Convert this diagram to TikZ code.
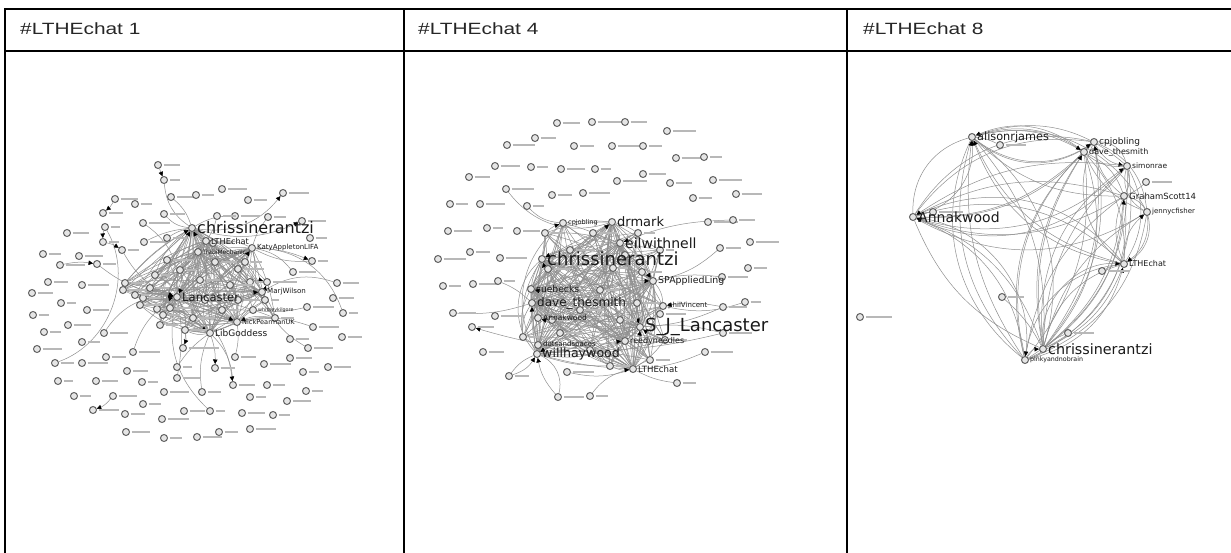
\documentclass[tikz,border=0pt]{standalone}
\usepackage{fontspec}
\setmainfont{Liberation Sans}
\newfontfamily\graphfont{DejaVu Sans}
\usetikzlibrary{arrows.meta}
\pgfdeclarelayer{edges}
\pgfsetlayers{edges,main}

\newcommand\labsize[1]{\fontsize{#1}{#1}\selectfont}

\tikzset{
  cell/.style={line width=2pt, line cap=rect},
  header/.style={anchor=base west, inner sep=0pt, text=black!85, font=\labsize{16.3}},
  minor/.style={circle, draw=black!62, fill=black!10, line width=1pt, minimum size=7pt, inner sep=0pt},
  smudge/.style={minor, label={[text=black!28, inner sep=1.5pt]right:\rule{#1}{1.5pt}}},
  hubtext/.style={font=\graphfont\labsize{#1}, inner sep=1pt, text=black!90},
  link/.style={draw=black!44, line width=0.5pt},
  tip/.style={link, -{Triangle[length=4.5pt, width=4.5pt, color=black]}},
}

\begin{document}
\begin{tikzpicture}[x=1pt, y=-1pt]
\useasboundingbox (0,0) rectangle (1231,553);

% table
\draw[cell] (5,9.5) -- (1231,9.5);
\draw[cell] (5,51) -- (1231,51);
\draw[cell] (5,9.5) -- (5,553);
\draw[cell] (404,9.5) -- (404,553);
\draw[cell] (847,9.5) -- (847,553);
\node[header] (h1) at (20,35) {\scalebox{1.28}[1]{\#LTHEchat 1}};
\node[header] (h4) at (418,35) {\scalebox{1.28}[1]{\#LTHEchat 4}};
\node[header] (h8) at (863,35) {\scalebox{1.28}[1]{\#LTHEchat 8}};

%%% chat 1
\foreach \x/\y [count=\i] in
  {158/165,164/180,115/199,135/204,171/197,196/195,222/189,248/200,283/193,103/213,
   143/223,164/214,105/227,67/233,103/242,144/242,122/250,79/256,43/254,60/265,
   97/264,167/260,48/282,82/285,32/293,61/303,87/310,33/315,68/325,44/332,
   104/333,82/342,37/349,55/363,82/363,106/357,133/352,127/371,58/381,96/381,
   142/382,177/378,74/396,113/396,143/404,164/392,202/392,93/410,125/414,162/419,
   184/411,210/411,233/385,250/397,242/413,273/415,126/432,164/438,197/437,219/432,
   250/429,215/368,264/364,235/357,177/367,290/358,303/372,328/367,306/391,287/401,
   267/385,308/348,290/339,313/327,342/337,307/307,333/298,343/313,337/283,312/261,
   293/272,310/238,302/221,268/217,235/216,217/216,238/269,167/238}
  {\pgfmathtruncatemacro\w{9+mod(\i*7,13)}
   \node[smudge=\w pt] (p1o\i) at (\x,\y) {};}
\foreach \x/\y [count=\i] in
  {125/283,123/290,143/298,157/309,163/315,193/318,222/310,238/300,250/282,213/243,
   135/295,150/288,170/308,205/300,230/285,245/262,215/262,180/270,140/305,155/275,
   200/280,265/300,275/318,185/330,160/325}
  {\pgfmathtruncatemacro\w{8+mod(\i*5,11)}
   \node[smudge=\w pt] (p1c\i) at (\x,\y) {};}

\node[minor] (p1chris) at (192,228) [label={[hubtext=16]right:chrissinerantzi}] {};
\node[minor] (p1lthe) at (206,241) [label={[hubtext=8.2]right:LTHEchat}] {};
\node[minor] (p1trabi) at (198,252) [label={[hubtext=6]right:TrabiMechanic}] {};
\node[minor] (p1katy) at (252,248) [label={[hubtext=7]right:KatyAppletonLIFA}] {};
\node[minor] (p1lanc) at (177,297) [label={[hubtext=11.6]right:Lancaster}] {};
\node[minor] (p1marj) at (262,292) [label={[hubtext=7.1]right:MarjWilson}] {};
\node[smudge=24pt] (p1mora) at (267,282) {};
\node[minor] (p1whit) at (253,310) [label={[hubtext=4.8]right:whitneykilgore}] {};
\node[minor] (p1nick) at (237,322) [label={[hubtext=6.6]right:NickPearmanUK}] {};
\node[minor] (p1lib) at (210,333) [label={[hubtext=9]right:LibGoddess}] {};
\node[smudge=30pt] (p1blog) at (183,348) {};

\begin{pgfonlayer}{edges}
\foreach \hub in {p1chris,p1lanc,p1lthe,p1katy,p1marj,p1nick,p1lib,p1trabi}{
  \foreach \k in {1,...,25}{
    \pgfmathsetmacro\bnd{mod(\k,5)*9-18}
    \draw[link] (\hub) to[bend left=\bnd] (p1c\k);
  }
}
\foreach \src/\dst/\bnd in {p1chris/p1lanc/20,p1chris/p1lanc/-25,p1chris/p1marj/15,p1chris/p1nick/-10,
   p1chris/p1lib/30,p1lanc/p1marj/-15,p1lanc/p1katy/20,p1lthe/p1lib/-30,p1katy/p1nick/25,
   p1chris/p1whit/20,p1lanc/p1whit/-10,p1lthe/p1marj/-20,p1trabi/p1nick/15,p1chris/p1mora/10,
   p1lanc/p1blog/20,p1lib/p1marj/-20,p1chris/p1lib/-35,p1lthe/p1lanc/35,p1katy/p1lib/-30,
   p1o2/p1chris/-25,p1o5/p1chris/15,p1o12/p1chris/-20,p1o11/p1lanc/30,p1o16/p1chris/10,
   p1o22/p1lanc/15,p1o88/p1chris/10,p1o85/p1chris/-15,p1o86/p1lthe/10,p1o84/p1katy/-10,
   p1o87/p1marj/15,p1o81/p1katy/-20,p1o80/p1katy/15,p1o79/p1marj/-25,p1o78/p1katy/-35,
   p1o76/p1whit/10,p1o74/p1nick/-15,p1o13/p1o34/50,p1o21/p1lanc/-15,p1o37/p1lanc/20,
   p1o65/p1lib/10,p1o64/p1nick/-10,p1o53/p1lib/-20,p1o52/p1lanc/30,p1o47/p1lib/15,
   p1o42/p1lanc/-10,p1o72/p1marj/20,p1o17/p1lanc/-20,p1o31/p1lanc/30}
  {\draw[link] (\src) to[bend left=\bnd] (\dst);}
\foreach \src/\dst/\bnd in {p1chris/p1o9/-30,p1o1/p1o2/0,p1o3/p1o10/10,p1o13/p1o15/-10,
   p1c1/p1chris/10,p1c14/p1chris/-15,p1o20/p1o21/10,p1c10/p1lthe/10,p1c9/p1mora/15,
   p1c18/p1lanc/20,p1c8/p1marj/15,p1c3/p1lanc/-10,p1chris/p1o83/-20,p1katy/p1o80/10,
   p1c22/p1mora/10,p1c11/p1lanc/10,p1c12/p1lanc/-10,p1lib/p1o62/10,p1c7/p1nick/-15,
   p1c24/p1blog/15,p1c6/p1lib/-10,p1lanc/p1o53/25,p1c23/p1nick/-15,p1c2/p1lanc/10,
   p1o15/p1o17/10,p1c16/p1katy/10,p1c20/p1chris/-10,p1o44/p1o48/15}
  {\draw[tip] (\src) to[bend left=\bnd] (\dst);}
\end{pgfonlayer}

%%% chat 4
\foreach \x/\y [count=\i] in
  {557/123,592/122,625/122,667/131,535/138,507/145,574/146,612/146,643/146,676/158,
   704/157,495/166,531/167,561/169,595/169,643/174,617/181,670/183,713/180,469/177,
   506/189,552/195,583/193,693/198,736/194,450/204,480/204,527/206,448/231,487/228,
   517/231,708/222,733/220,750/242,720/248,438/259,470/252,500/258,748/268,722/277,
   443/286,473/284,498/281,723/307,745/302,453/313,495/316,472/327,723/333,483/352,
   705/352,509/376,567/372,677/383,558/397,590/396}
  {\pgfmathtruncatemacro\w{10+mod(\i*7,15)}
   \node[smudge=\w pt] (p2o\i) at (\x,\y) {};}
\foreach \x/\y [count=\i] in
  {545/233,593/233,638/233,548/269,613/268,642/272,637/303,552/320,560/333,523/337,
   610/366,660/250,600/290,580/310,620/320,665/340,590/350,650/360,570/250,625/255}
  {\pgfmathtruncatemacro\w{8+mod(\i*5,12)}
   \node[smudge=\w pt] (p2c\i) at (\x,\y) {};}

\node[minor] (p2cpj) at (563,223) [label={[hubtext=6.5]right:cpjobling}] {};
\node[minor] (p2drmark) at (612,222) [label={[hubtext=13]right:drmark}] {};
\node[minor] (p2neil) at (620,243) [label={[hubtext=14]right:eilwithnell}] {};
\node[minor] (p2chris) at (542,259) [label={[hubtext=18]right:chrissinerantzi}] {};
\node[minor] (p2spa) at (653,281) [label={[hubtext=9.4]right:SPAppliedLing}] {};
\node[minor] (p2sue) at (531,289) [label={[hubtext=9.2]right:suebecks}] {};
\node[minor] (p2dave) at (532,303) [label={[hubtext=12]right:dave\_thesmith}] {};
\node[minor] (p2phil) at (663,306) [label={[hubtext=7]right:philVincent}] {};
\node[smudge=20pt] (p2walker) at (660,314) {};
\node[minor] (p2anna) at (538,318) [label={[hubtext=7.5]right:Annakwood}] {};
\node[minor] (p2sjl) at (640,327) [label={[hubtext=18]right:S\_J\_Lancaster}] {};
\node[minor] (p2dots) at (538,345) [label={[hubtext=7]right:dotsandspaces}] {};
\node[minor] (p2reedy) at (625,341) [label={[hubtext=8]right:reedyneedles}] {};
\node[minor] (p2will) at (537,354) [label={[hubtext=12.6]right:willhaywood}] {};
\node[minor] (p2lthe) at (633,369) [label={[hubtext=8.6]right:LTHEchat}] {};

\begin{pgfonlayer}{edges}
\foreach \hub in {p2chris,p2sjl,p2dave,p2will,p2neil,p2spa,p2drmark,p2reedy,p2lthe,p2sue}{
  \foreach \k in {1,...,20}{
    \pgfmathsetmacro\bnd{mod(\k,5)*9-18}
    \draw[link] (\hub) to[bend left=\bnd] (p2c\k);
  }
}
\foreach \hub [count=\i] in {p2chris,p2sjl,p2dave,p2will,p2neil,p2spa,p2drmark,p2reedy,p2lthe,
    p2sue,p2dots,p2anna,p2phil,p2cpj}{
  \foreach \dst [count=\j] in {p2chris,p2sjl,p2dave,p2will,p2neil,p2spa,p2drmark,
    p2reedy,p2lthe,p2sue,p2dots,p2anna,p2phil,p2cpj}{
    \ifnum\j>\i
      \pgfmathsetmacro\bnd{mod(\i+\j,4)*12-18}
      \draw[link] (\hub) to[bend left=\bnd] (\dst);
    \fi
  }
}
\foreach \src/\dst/\bnd in {p2o21/p2drmark/-35,p2o55/p2will/-40,p2o52/p2will/15,p2o44/p2sjl/10,
   p2o45/p2phil/15,p2o49/p2sjl/-10,p2o51/p2lthe/10,p2o53/p2lthe/-15,p2o56/p2lthe/20,
   p2o35/p2spa/15,p2o40/p2spa/-10,p2o43/p2dave/10,p2o46/p2dave/-10,p2o28/p2cpj/-20,
   p2o33/p2neil/-10,p2o54/p2lthe/10,p2chris/p2will/-45,p2cpj/p2will/-40,p2drmark/p2lthe/45}
  {\draw[link] (\src) to[bend left=\bnd] (\dst);}
\foreach \src/\dst/\bnd in {p2c4/p2chris/15,p2c19/p2chris/-10,p2c1/p2cpj/10,p2c2/p2drmark/-10,
   p2c3/p2neil/10,p2c6/p2spa/15,p2c7/p2sjl/-10,p2c16/p2sjl/10,p2c18/p2sjl/20,p2c10/p2dave/-15,
   p2c9/p2will/10,p2c11/p2lthe/-15,p2c17/p2reedy/10,p2o44/p2phil/-10,p2o49/p2o48/15,
   p2c8/p2anna/10,p2o52/p2will/-20,p2o55/p2will/15,p2c14/p2sue/-10,p2c13/p2spa/10}
  {\draw[tip] (\src) to[bend left=\bnd] (\dst);}
\end{pgfonlayer}

%%% chat 8
\node[smudge=26pt] (p3solo) at (860,317) {};
\node[smudge=20pt] (p3s1) at (1000,145) {};
\node[smudge=24pt] (p3s2) at (933,212) {};
\node[smudge=22pt] (p3s3) at (1102,271) {};
\node[smudge=16pt] (p3s4) at (1002,297) {};
\node[smudge=20pt] (p3s5) at (1068,333) {};
\node[smudge=20pt] (p3s6) at (1146,182) {};

\node[minor] (p3anna) at (913,217) [label={[hubtext=14]right:Annakwood}] {};
\node[minor] (p3alison) at (972,137) [label={[hubtext=11.3]right:alisonrjames}] {};
\node[minor] (p3cpj) at (1094,142) [label={[hubtext=9]right:cpjobling}] {};
\node[minor] (p3dave) at (1084,152) [label={[hubtext=8]right:dave\_thesmith}] {};
\node[minor] (p3simon) at (1127,166) [label={[hubtext=7.5]right:simonrae}] {};
\node[minor] (p3graham) at (1124,196) [label={[hubtext=8.5]right:GrahamScott14}] {};
\node[minor] (p3jenny) at (1147,212) [label={[hubtext=7]right:jennycfisher}] {};
\node[minor] (p3lthe) at (1124,264) [label={[hubtext=8]right:LTHEchat}] {};
\node[minor] (p3chris) at (1043,349) [label={[hubtext=14.3]right:chrissinerantzi}] {};
\node[minor] (p3pinky) at (1025,360) [label={[hubtext=6.3]right:pinkyandnobrain}] {};

\begin{pgfonlayer}{edges}
\foreach \hub [count=\i] in {p3anna,p3alison,p3dave,p3cpj,p3simon,p3graham,p3jenny,p3lthe,p3chris,p3pinky}{
  \foreach \dst [count=\j] in {p3anna,p3alison,p3dave,p3cpj,p3simon,p3graham,p3jenny,p3lthe,p3chris,p3pinky}{
    \ifnum\j>\i
      \pgfmathsetmacro\bnd{(mod(\i+\j,2)*2-1)*(22+mod(\i*\j,3)*8)}
      \draw[link] (\hub) to[bend left=\bnd] (\dst);
    \fi
  }
}
\foreach \src/\dst/\bnd in {p3anna/p3cpj/35,p3anna/p3simon/-30,p3anna/p3lthe/30,p3alison/p3chris/35,
   p3alison/p3pinky/-30,p3dave/p3chris/30,p3dave/p3pinky/-30,p3graham/p3chris/35,p3lthe/p3chris/-30,
   p3anna/p3s2/10,p3s4/p3chris/10,p3s5/p3chris/-10,p3s3/p3lthe/10,p3alison/p3s1/10,
   p3s6/p3graham/10,p3simon/p3pinky/30,p3cpj/p3anna/25}
  {\draw[link] (\src) to[bend left=\bnd] (\dst);}
\foreach \src/\dst/\bnd in {p3anna/p3alison/-40,p3anna/p3pinky/45,p3pinky/p3chris/30,
   p3chris/p3lthe/50,p3lthe/p3jenny/25,p3alison/p3cpj/-35,p3cpj/p3simon/-25,p3chris/p3dave/20,
   p3pinky/p3alison/20,p3chris/p3anna/-25,p3graham/p3anna/25,p3simon/p3anna/-20,
   p3lthe/p3alison/25,p3chris/p3graham/-25,p3pinky/p3lthe/-30,p3dave/p3alison/-30,
   p3chris/p3simon/30,p3chris/p3cpj/-25,p3jenny/p3lthe/30,p3alison/p3dave/25}
  {\draw[tip] (\src) to[bend left=\bnd] (\dst);}
\end{pgfonlayer}
\end{tikzpicture}
\end{document}
